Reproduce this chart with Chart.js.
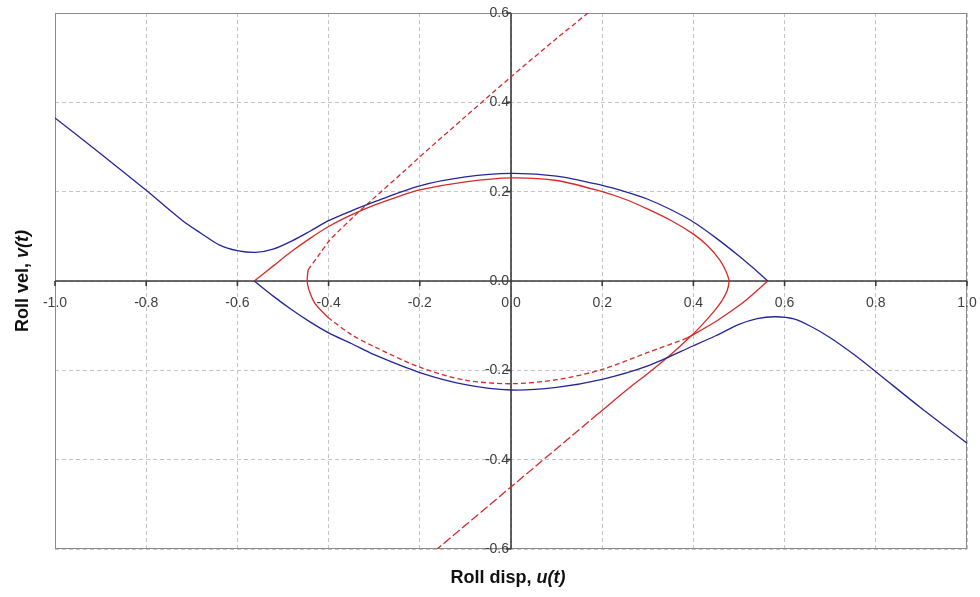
<!DOCTYPE html>
<html lang="en">
<head>
    <meta charset="UTF-8">
    <title>Roll phase plane</title>
    <script src="https://cdn.jsdelivr.net/npm/chart.js"></script>
    <style>
        body {
            margin: 0;
            padding: 0;
            background-color: #ffffff;
        }

        .chart-box {
            width: 980px;
            height: 597px;
        }
    </style>
</head>
<body>
    <div class="chart-box">
        <canvas id="chart1" width="980" height="597"></canvas>
    </div>

    <script>
        // axis ticks
        const uTicks = [-1.0, -0.8, -0.6, -0.4, -0.2, 0.0, 0.2, 0.4, 0.6, 0.8, 1.0];
        const vTicks = [-0.6, -0.4, -0.2, 0.0, 0.2, 0.4, 0.6];

        // blue curves (solid)
        const blueUpperU = [-1.0, -0.9, -0.8, -0.72, -0.68, -0.64, -0.6, -0.56, -0.52, -0.48, -0.44, -0.4, -0.35, -0.3, -0.2, -0.1, 0.0, 0.1, 0.2, 0.25, 0.3, 0.35, 0.4, 0.45, 0.5, 0.53, 0.563];
        const blueUpperV = [0.365, 0.285, 0.203, 0.135, 0.107, 0.081, 0.068, 0.064, 0.072, 0.09, 0.112, 0.135, 0.157, 0.177, 0.213, 0.233, 0.241, 0.235, 0.214, 0.2, 0.183, 0.16, 0.132, 0.096, 0.056, 0.03, 0.0];
        const blueLowerU = [-0.563, -0.52, -0.48, -0.44, -0.4, -0.35, -0.3, -0.2, -0.1, 0.0, 0.1, 0.2, 0.3, 0.4, 0.45, 0.5, 0.54, 0.58, 0.62, 0.66, 0.7, 0.75, 0.8, 0.9, 1.0];
        const blueLowerV = [0.0, -0.035, -0.065, -0.092, -0.116, -0.14, -0.165, -0.205, -0.232, -0.244, -0.238, -0.22, -0.19, -0.145, -0.122, -0.097, -0.084, -0.08, -0.085, -0.103, -0.127, -0.163, -0.203, -0.285, -0.363];

        // red curve from left saddle: solid part, then long-dash tail
        const redAU = [-0.563, -0.52, -0.48, -0.44, -0.4, -0.35, -0.3, -0.25, -0.2, -0.1, 0.0, 0.1, 0.2, 0.25, 0.3, 0.35, 0.4, 0.43, 0.458, 0.472, 0.478, 0.474, 0.462, 0.445, 0.42, 0.393, 0.35, 0.3, 0.261, 0.19];
        const redAV = [0.0, 0.035, 0.067, 0.096, 0.122, 0.148, 0.17, 0.188, 0.204, 0.222, 0.231, 0.225, 0.2, 0.183, 0.161, 0.136, 0.105, 0.08, 0.047, 0.02, 0.0, -0.022, -0.045, -0.068, -0.097, -0.125, -0.165, -0.207, -0.238, -0.298];
        const redTailU = [0.19, 0.0, -0.162];
        const redTailV = [-0.298, -0.461, -0.6];

        // red curve from right saddle: solid / dashed pieces
        const redB1U = [0.563, 0.53, 0.5, 0.45, 0.386];
        const redB1V = [0.0, -0.03, -0.055, -0.09, -0.128];
        const redB2U = [0.386, 0.3, 0.2, 0.1, 0.0, -0.1, -0.2, -0.3, -0.35, -0.4];
        const redB2V = [-0.128, -0.16, -0.198, -0.221, -0.23, -0.222, -0.193, -0.147, -0.12, -0.083];
        const redB3U = [-0.4, -0.43, -0.443, -0.447, -0.445];
        const redB3V = [-0.083, -0.05, -0.02, 0.0, 0.025];
        const redB4U = [-0.445, -0.42, -0.397, -0.346, -0.31, -0.232, -0.2, -0.1, 0.0, 0.1, 0.169];
        const redB4V = [0.025, 0.06, 0.092, 0.143, 0.177, 0.248, 0.278, 0.368, 0.457, 0.543, 0.6];

        const BLUE = '#25259a';
        const RED = '#d42a2a';

        function pts(us, vs) {
            return us.map((u, i) => ({ x: u, y: vs[i] }));
        }

        function curve(us, vs, color, dash) {
            return {
                data: pts(us, vs),
                showLine: true,
                borderColor: color,
                borderWidth: 1.3,
                borderDash: dash || [],
                pointRadius: 0,
                tension: 0.3,
                fill: false
            };
        }

        function tickLabel(v) {
            return (Math.abs(v) < 1e-9 ? 0 : v).toFixed(1);
        }

        function titleText(ctx, cx, cy, plain, italic) {
            ctx.font = 'bold 18px "Liberation Sans", Arial, sans-serif';
            const w1 = ctx.measureText(plain).width;
            ctx.font = 'italic bold 18px "Liberation Sans", Arial, sans-serif';
            const w2 = ctx.measureText(italic).width;
            let x = cx - (w1 + w2) / 2;
            ctx.textAlign = 'left';
            ctx.textBaseline = 'middle';
            ctx.font = 'bold 18px "Liberation Sans", Arial, sans-serif';
            ctx.fillText(plain, x, cy);
            ctx.font = 'italic bold 18px "Liberation Sans", Arial, sans-serif';
            ctx.fillText(italic, x + w1, cy);
        }

        const axesPlugin = {
            id: 'axesPlugin',
            beforeDatasetsDraw(chart) {
                const { ctx, chartArea: a, scales: { x, y } } = chart;
                const x0 = x.getPixelForValue(0);
                const y0 = y.getPixelForValue(0);
                ctx.save();
                // plot frame
                ctx.strokeStyle = '#8a8a8a';
                ctx.lineWidth = 1;
                ctx.strokeRect(a.left + 0.5, a.top + 0.5, a.width - 1, a.height - 1);
                // axes through origin
                ctx.strokeStyle = '#3a3a3a';
                ctx.lineWidth = 1.6;
                ctx.beginPath();
                ctx.moveTo(a.left, y0);
                ctx.lineTo(a.right, y0);
                ctx.moveTo(x0, a.top);
                ctx.lineTo(x0, a.bottom);
                uTicks.forEach(u => {
                    const px = x.getPixelForValue(u);
                    ctx.moveTo(px, y0);
                    ctx.lineTo(px, y0 + 5);
                });
                vTicks.forEach(v => {
                    const py = y.getPixelForValue(v);
                    ctx.moveTo(x0 - 5, py);
                    ctx.lineTo(x0, py);
                });
                ctx.stroke();
                // tick labels
                ctx.fillStyle = '#404040';
                ctx.font = '14px "Liberation Sans", Arial, sans-serif';
                ctx.textAlign = 'center';
                ctx.textBaseline = 'middle';
                uTicks.forEach(u => {
                    ctx.fillText(tickLabel(u), x.getPixelForValue(u), y0 + 22);
                });
                ctx.textAlign = 'right';
                vTicks.forEach(v => {
                    ctx.fillText(tickLabel(v), x0 - 2, y.getPixelForValue(v));
                });
                ctx.restore();
            },
            afterDraw(chart) {
                const { ctx, scales: { x, y } } = chart;
                ctx.save();
                ctx.fillStyle = '#111111';
                titleText(ctx, x.getPixelForValue(0) - 3, 578, 'Roll disp, ', 'u(t)');
                ctx.translate(23, y.getPixelForValue(0));
                ctx.rotate(-Math.PI / 2);
                titleText(ctx, 0, 0, 'Roll vel, ', 'v(t)');
                ctx.restore();
            }
        };

        const ctx1 = document.getElementById('chart1').getContext('2d');
        const chart1 = new Chart(ctx1, {
            type: 'scatter',
            data: {
                datasets: [
                    curve(blueUpperU, blueUpperV, BLUE),
                    curve(blueLowerU, blueLowerV, BLUE),
                    curve(redAU, redAV, RED),
                    curve(redTailU, redTailV, RED, [9, 3]),
                    curve(redB1U, redB1V, RED),
                    curve(redB2U, redB2V, RED, [5, 3]),
                    curve(redB3U, redB3V, RED),
                    curve(redB4U, redB4V, RED, [5, 3])
                ]
            },
            options: {
                responsive: false,
                animation: false,
                layout: {
                    padding: { left: 55, right: 13, top: 13, bottom: 48 }
                },
                plugins: {
                    legend: { display: false },
                    tooltip: { enabled: false }
                },
                scales: {
                    x: {
                        type: 'linear',
                        min: -1,
                        max: 1,
                        afterBuildTicks: s => { s.ticks = uTicks.map(v => ({ value: v })); },
                        ticks: { display: false },
                        grid: { color: '#c4c4c4', lineWidth: 1, drawTicks: false },
                        border: { display: false, dash: [4, 3] }
                    },
                    y: {
                        type: 'linear',
                        min: -0.6,
                        max: 0.6,
                        afterBuildTicks: s => { s.ticks = vTicks.map(v => ({ value: v })); },
                        ticks: { display: false },
                        grid: { color: '#c4c4c4', lineWidth: 1, drawTicks: false },
                        border: { display: false, dash: [4, 3] }
                    }
                }
            },
            plugins: [axesPlugin]
        });
    </script>
</body>
</html>
